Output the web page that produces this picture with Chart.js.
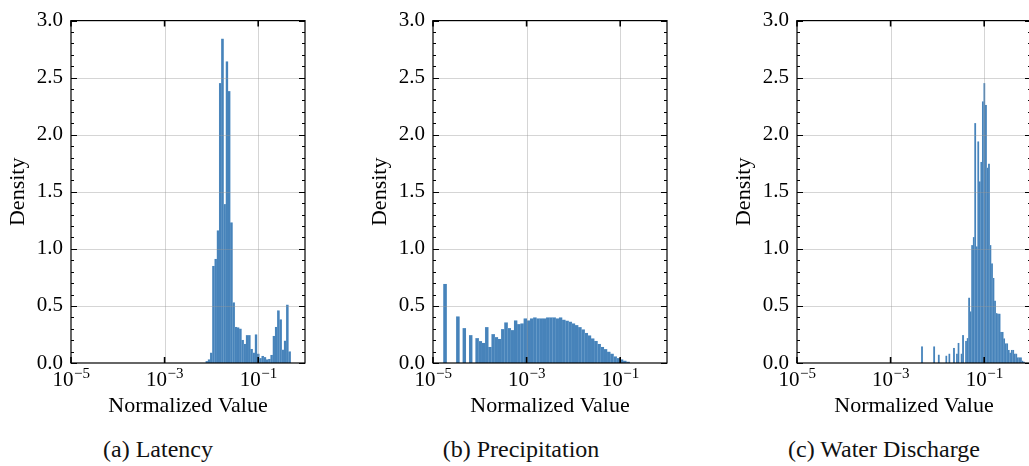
<!DOCTYPE html>
<html><head><meta charset="utf-8">
<script src="https://cdn.jsdelivr.net/npm/chart.js@4.4.1/dist/chart.umd.min.js"></script>
<style>
html,body{margin:0;padding:0;background:#fff;overflow:hidden;width:1029px;height:466px;}
.panel{position:absolute;top:0;width:340px;height:425px;}
.cap{position:absolute;top:436px;width:320px;text-align:center;font-family:"Liberation Serif",serif;font-size:24px;line-height:27px;color:#111;white-space:nowrap;}
</style></head><body>
<div class="panel" style="left:0px"><canvas id="c0" width="340" height="425"></canvas></div>
<div class="panel" style="left:362px"><canvas id="c1" width="340" height="425"></canvas></div>
<div class="panel" style="left:726px"><canvas id="c2" width="340" height="425"></canvas></div>
<div class="cap" style="left:-2px">(a) Latency</div>
<div class="cap" style="left:361px">(b) Precipitation</div>
<div class="cap" style="left:724px">(c) Water Discharge</div>
<script>
// ---- data ----
const xTickValues = [1e-5, 1e-3, 1e-1];
const xTickBase = '10';
const xTickExponents = ['\u22125', '\u22123', '\u22121'];
const xGridValues = [1e-3, 1e-1];
const yGridValues = [0.5, 1.0, 1.5, 2.0, 2.5];
const xLabel = 'Normalized Value';
const yLabel = 'Density';

// histogram bins: log10 of first bin edge and log10 bin width
const latencyBinStart = -2.122, latencyBinWidth = 0.0478;
const latencyDensity = [0.014, 0.03, 0.09, 0.85, 0.91, 1.16, 2.45, 2.84, 1.39, 2.64,
  2.38, 1.23, 0.53, 0.315, 0.31, 0.30, 0.20, 0.166, 0.243, 0.243,
  0.123, 0.09, 0.25, 0.08, 0.04, 0.06, 0.05, 0.03, 0.035, 0.07,
  0.235, 0.315, 0.46, 0.38, 0.115, 0.195, 0.51, 0.10];

const precipBinStart = -4.777, precipBinWidth = 0.0686;
const precipDensity = [0.692, null, null, null, 0.406, null, 0.303, null, 0.243, null,
  0.217, 0.19, 0.174, 0.312, 0.14, 0.252, 0.226, 0.21, 0.295, 0.355,
  0.303, 0.286, 0.372, 0.338, 0.346, 0.389, 0.372, 0.389, 0.398, 0.389,
  0.389, 0.389, 0.398, 0.398, 0.398, 0.389, 0.398, 0.378, 0.369, 0.361,
  0.346, 0.329, 0.312, 0.292, 0.263, 0.24, 0.215, 0.192, 0.166, 0.14,
  0.12, 0.097, 0.08, 0.057, 0.04, 0.03, 0.02, 0.011];

const dischargeBinStart = -2.345, dischargeBinWidth = 0.0325;
const dischargeDensity = [0.143, null, null, null, null, null, null, null, 0.143, null,
  null, 0.071, null, null, null, null, 0.063, null, 0.08, null,
  null, 0.131, null, 0.08, 0.174, null, 0.08, 0.243, null, 0.192,
  0.217, 0.57, 0.45, 1.03, 1.10, 2.10, 1.02, 1.94, 1.59, 1.76,
  2.29, 2.45, 2.26, 1.71, 1.746, 1.03, 0.87, 0.744, 0.544, 0.435,
  0.43, 0.43, 0.27, 0.27, 0.215, 0.17, 0.17, 0.114, 0.09, 0.114,
  0.114, 0.08, 0.08, 0.048, 0.048, 0.048, 0.02, 0.01];

// ---- drawing ----
const SERIF = '"Liberation Serif", "Times New Roman", serif';
Chart.defaults.font.family = SERIF;
Chart.defaults.color = '#000';

function toPoints(start, width, dens) {
  return dens.map((d, i) => ({ x: Math.pow(10, start + (i + 0.5) * width), y: d }));
}

const framePlugin = {
  id: 'frame',
  afterDatasetsDraw(chart) {
    const { ctx, chartArea: a, scales: { x, y } } = chart;
    ctx.save();
    // grid on top of bars
    ctx.strokeStyle = 'rgba(150,150,150,0.40)';
    ctx.lineWidth = 1;
    ctx.beginPath();
    xGridValues.forEach(v => {
      const px = Math.round(x.getPixelForValue(v)) + 0.5;
      ctx.moveTo(px, a.top); ctx.lineTo(px, a.bottom);
    });
    yGridValues.forEach(v => {
      const py = Math.round(y.getPixelForValue(v)) + 0.5;
      ctx.moveTo(a.left, py); ctx.lineTo(a.right, py);
    });
    ctx.stroke();
    // ticks (inward)
    ctx.strokeStyle = '#000';
    ctx.lineWidth = 1;
    ctx.beginPath();
    for (let k = 0; k <= 30; k++) {
      const py = Math.round(y.getPixelForValue(k / 10)) + 0.5;
      const len = (k % 5 === 0) ? 6 : 3;
      ctx.moveTo(a.left, py); ctx.lineTo(a.left + len, py);
      ctx.moveTo(a.right, py); ctx.lineTo(a.right - len, py);
    }
    ctx.stroke();
    ctx.lineWidth = 1.6;
    ctx.beginPath();
    xTickValues.forEach(v => {
      const px = x.getPixelForValue(v);
      ctx.moveTo(px, a.bottom); ctx.lineTo(px, a.bottom - 6);
      ctx.moveTo(px, a.top); ctx.lineTo(px, a.top + 6);
    });
    ctx.stroke();
    // frame
    ctx.lineWidth = 1.2;
    ctx.strokeRect(a.left, a.top, a.right - a.left, a.bottom - a.top);
    ctx.restore();
  },
  afterDraw(chart) {
    // x tick labels 10^k with a true superscript
    const { ctx, chartArea: a, scales: { x } } = chart;
    ctx.save();
    ctx.fillStyle = '#000';
    ctx.textBaseline = 'alphabetic';
    ctx.textAlign = 'left';
    xTickValues.forEach((v, i) => {
      const px = x.getPixelForValue(v);
      ctx.font = '21px ' + SERIF;
      const wb = ctx.measureText(xTickBase).width;
      ctx.font = '15px ' + SERIF;
      const we = ctx.measureText(xTickExponents[i]).width;
      const x0 = px - (wb + we) / 2;
      const base = a.bottom + 23;
      ctx.font = '21px ' + SERIF;
      ctx.fillText(xTickBase, x0, base);
      ctx.font = '15px ' + SERIF;
      ctx.fillText(xTickExponents[i], x0 + wb + 0.5, base - 8);
    });
    ctx.restore();
  }
};

function makeChart(id, start, width, dens) {
  const ctx = document.getElementById(id);
  return new Chart(ctx, {
    type: 'bar',
    data: {
      datasets: [{
        data: toPoints(start, width, dens),
        backgroundColor: '#4783ba',
        borderColor: 'rgba(130,175,215,0.8)',
        borderWidth: 0.25,
        barPercentage: 1.0,
        categoryPercentage: 1.0
      }]
    },
    options: {
      responsive: false,
      animation: false,
      events: [],
      layout: { padding: { left: 0, top: 14, right: 35, bottom: 0 } },
      plugins: { legend: { display: false }, tooltip: { enabled: false } },
      scales: {
        x: {
          type: 'logarithmic',
          min: 1e-5, max: 1,
          offset: false,
          grid: { display: false, offset: false, drawTicks: false },
          border: { display: false },
          afterBuildTicks: s => { s.ticks = xTickValues.map(v => ({ value: v })); },
          afterFit: s => { s.height = 62; },
          ticks: { display: false },
          title: { display: true, text: xLabel, font: { size: 22, family: SERIF }, padding: { top: 0, bottom: 6 } }
        },
        y: {
          min: 0, max: 3,
          grid: { display: false, drawTicks: false },
          border: { display: false },
          afterFit: s => { s.width = 71; },
          ticks: { stepSize: 0.5, padding: 8, font: { size: 21, family: SERIF }, callback: v => Number(v).toFixed(1) },
          title: { display: true, text: yLabel, font: { size: 22, family: SERIF }, padding: { top: 5, bottom: 0 } }
        }
      }
    },
    plugins: [framePlugin]
  });
}

makeChart('c0', latencyBinStart, latencyBinWidth, latencyDensity);
makeChart('c1', precipBinStart, precipBinWidth, precipDensity);
makeChart('c2', dischargeBinStart, dischargeBinWidth, dischargeDensity);
</script>
</body></html>
